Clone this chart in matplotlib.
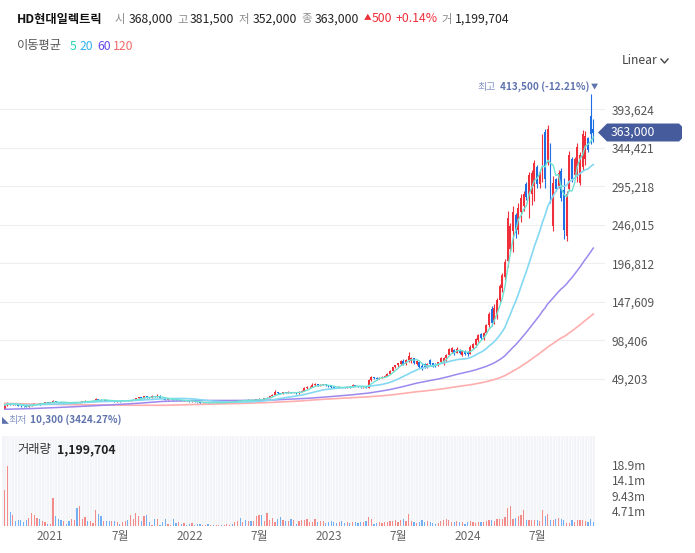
import numpy as np
import pandas as pd
import matplotlib
matplotlib.use("Agg")
import matplotlib.pyplot as plt
from matplotlib.patches import Polygon
from matplotlib.lines import Line2D

plt.rcParams['font.family'] = ['Noto Sans CJK KR', 'DejaVu Sans']

# ---------------- data (weekly, thousand KRW) ----------------
start_date = '2020-09-07'

open_k = [
    10.6, 16.0, 18.5, 16.6, 17.8, 16.2, 15.2, 14.6, 14.3, 14.0,
    15.4, 16.8, 17.9, 18.2, 17.1, 18.3, 19.4, 19.0, 19.3, 20.6,
    19.6, 19.2, 18.8, 19.6, 19.0, 18.6, 19.4, 19.9, 19.2, 20.0,
    20.5, 21.2, 20.4, 21.0, 21.5, 23.8, 22.6, 21.8, 22.4, 21.6,
    21.0, 21.4, 20.6, 21.2, 20.8, 21.5, 22.0, 21.4, 22.2, 22.8,
    24.5, 25.6, 24.8, 27.0, 25.8, 25.2, 27.5, 26.4, 28.0, 25.0,
    23.4, 22.6, 23.2, 24.0, 22.4, 21.8, 22.2, 21.3, 21.8, 21.0,
    20.6, 21.2, 20.0, 19.4, 18.2, 18.8, 19.2, 18.6, 19.0, 18.4,
    18.9, 19.3, 18.7, 19.0, 19.6, 20.2, 19.8, 21.5, 22.0, 21.4,
    22.3, 21.8, 22.5, 21.6, 22.0, 23.2, 24.0, 23.4, 24.6, 25.4,
    27.5, 29.0, 32.5, 31.0, 30.2, 32.0, 31.2, 32.4, 31.6, 32.2,
    31.0, 32.8, 34.2, 37.5, 38.6, 39.0, 41.5, 42.8, 40.5, 41.6,
    42.4, 41.2, 39.8, 38.6, 38.2, 37.8, 39.0, 38.4, 38.0, 39.2,
    38.6, 41.5, 40.2, 39.0, 38.4, 38.8, 38.2, 47.5, 51.5, 50.0,
    49.5, 51.0, 51.8, 53.5, 55.5, 59.5, 64.0, 66.5, 68.0, 71.8,
    68.5, 74.0, 72.0, 76.0, 68.0, 71.0, 66.0, 68.5, 64.0, 73.0,
    69.5, 68.0, 66.5, 70.5, 70.0, 76.0, 80.0, 84.0, 86.5, 82.5,
    86.5, 80.0, 85.0, 84.0, 81.5, 89.0, 93.0, 99.0, 106.0, 101.0,
    108.0, 118.0, 138.0, 122.0, 132.0, 150.0, 165.0, 180.0, 200.0, 215.0,
    238.0, 258.0, 240.0, 262.0, 270.0, 298.0, 280.0, 285.0, 295.0, 320.0,
    298.0, 310.0, 365.0, 325.0, 345.0, 245.0, 304.0, 295.0, 315.0, 290.0,
    232.0, 292.0, 330.0, 310.0, 310.0, 300.0, 320.0, 330.0, 357.0, 385.0,
    368.0]

high_k = [
    17.5, 20.2, 19.0, 18.8, 18.2, 16.6, 15.8, 15.2, 15.0, 16.0,
    17.4, 18.5, 18.8, 18.6, 18.8, 19.8, 20.0, 19.9, 21.8, 21.0,
    20.1, 19.6, 20.0, 19.9, 19.3, 19.8, 20.4, 20.2, 20.4, 21.0,
    21.8, 21.5, 21.4, 22.2, 25.0, 24.2, 23.0, 23.0, 22.8, 22.0,
    21.9, 21.6, 21.6, 21.5, 21.9, 22.5, 22.3, 22.6, 23.4, 25.2,
    26.4, 26.0, 28.0, 27.4, 26.2, 28.2, 27.8, 29.5, 28.2, 25.4,
    23.8, 23.8, 25.0, 24.2, 22.8, 22.8, 22.4, 22.2, 22.0, 21.3,
    21.6, 21.4, 20.3, 19.6, 19.2, 19.6, 19.4, 19.4, 19.2, 19.2,
    19.8, 19.5, 19.4, 20.0, 20.6, 20.5, 22.2, 22.6, 22.3, 22.8,
    22.6, 23.0, 22.8, 22.4, 23.6, 24.6, 24.2, 25.0, 26.0, 28.0,
    29.6, 34.5, 33.0, 31.6, 33.0, 32.6, 33.6, 32.8, 33.0, 32.5,
    33.4, 35.5, 38.5, 39.6, 40.0, 43.5, 44.5, 43.2, 42.4, 43.2,
    43.0, 42.0, 40.4, 39.6, 38.8, 39.6, 39.4, 38.9, 39.8, 39.6,
    42.6, 41.8, 40.6, 39.4, 39.4, 39.4, 49.0, 53.5, 52.0, 51.6,
    52.0, 52.6, 54.6, 56.4, 60.4, 64.8, 67.6, 69.8, 72.8, 74.5,
    75.0, 84.0, 77.6, 76.4, 73.2, 71.4, 69.6, 69.6, 69.6, 74.7,
    70.0, 69.6, 71.0, 77.6, 77.0, 80.5, 88.6, 89.5, 87.0, 90.6,
    87.0, 86.5, 86.0, 85.0, 92.0, 94.6, 101.0, 107.0, 108.0, 109.0,
    120.0, 134.6, 143.0, 145.0, 152.0, 170.6, 185.0, 202.0, 264.0, 248.6,
    270.0, 261.0, 274.0, 285.0, 289.0, 301.0, 314.0, 316.0, 329.0, 322.5,
    316.0, 362.6, 369.0, 373.0, 350.0, 308.0, 306.0, 316.0, 319.0, 306.0,
    289.0, 340.0, 333.0, 333.0, 350.0, 339.0, 367.0, 365.6, 358.0, 413.5,
    381.5]

low_k = [
    10.3, 15.2, 15.8, 16.0, 15.5, 14.6, 14.0, 13.6, 13.5, 13.8,
    15.0, 16.2, 17.2, 16.6, 16.9, 18.0, 18.4, 18.6, 19.0, 19.2,
    18.8, 18.2, 18.5, 18.6, 18.0, 18.4, 19.0, 18.9, 19.0, 19.7,
    20.2, 20.0, 20.1, 20.8, 21.2, 22.2, 21.4, 21.5, 21.2, 20.6,
    20.7, 20.2, 20.4, 20.4, 20.6, 21.2, 21.0, 21.2, 22.0, 22.6,
    24.0, 24.2, 24.6, 25.4, 24.6, 25.0, 26.0, 26.2, 24.6, 23.0,
    22.2, 22.4, 23.0, 22.0, 21.4, 21.6, 21.0, 21.1, 20.6, 20.2,
    20.4, 19.6, 19.0, 17.2, 18.0, 18.6, 18.2, 18.4, 18.0, 18.2,
    18.7, 18.4, 18.5, 18.8, 19.3, 19.5, 19.6, 21.2, 21.0, 21.2,
    21.4, 21.6, 21.2, 21.4, 21.8, 23.0, 23.0, 23.2, 24.4, 25.2,
    27.0, 28.8, 30.4, 29.6, 30.0, 30.8, 31.0, 31.0, 31.2, 30.4,
    30.6, 32.5, 34.0, 36.8, 37.6, 38.6, 40.8, 40.0, 40.0, 41.0,
    40.6, 39.2, 37.8, 37.6, 37.2, 37.6, 37.8, 37.4, 37.8, 38.0,
    38.4, 39.6, 38.6, 37.8, 38.0, 37.6, 38.0, 46.8, 48.6, 48.4,
    49.0, 50.4, 51.2, 53.0, 55.0, 58.8, 62.6, 65.0, 67.0, 67.2,
    67.4, 71.5, 69.2, 68.0, 67.0, 63.0, 61.0, 63.0, 63.2, 67.0,
    65.0, 65.0, 66.0, 69.6, 67.0, 71.0, 79.5, 82.0, 80.0, 82.0,
    80.5, 78.5, 80.0, 79.0, 81.0, 88.0, 90.0, 96.6, 99.0, 99.0,
    106.0, 115.6, 116.5, 120.0, 126.0, 147.0, 160.0, 175.0, 191.6, 210.0,
    211.0, 229.6, 234.0, 250.0, 264.0, 278.0, 255.0, 272.0, 276.0, 293.0,
    293.0, 301.0, 293.0, 322.5, 274.0, 238.0, 289.0, 293.0, 276.0, 227.6,
    225.0, 289.0, 301.0, 308.0, 301.0, 297.0, 316.0, 322.5, 339.0, 348.7,
    352.0]

close_k = [
    16.0, 18.5, 16.6, 17.8, 16.2, 15.2, 14.6, 14.3, 14.0, 15.4,
    16.8, 17.9, 18.2, 17.1, 18.3, 19.4, 19.0, 19.3, 20.6, 19.6,
    19.2, 18.8, 19.6, 19.0, 18.6, 19.4, 19.9, 19.2, 20.0, 20.5,
    21.2, 20.4, 21.0, 21.5, 23.8, 22.6, 21.8, 22.4, 21.6, 21.0,
    21.4, 20.6, 21.2, 20.8, 21.5, 22.0, 21.4, 22.2, 22.8, 24.5,
    25.6, 24.8, 27.0, 25.8, 25.2, 27.5, 26.4, 28.0, 25.0, 23.4,
    22.6, 23.2, 24.0, 22.4, 21.8, 22.2, 21.3, 21.8, 21.0, 20.6,
    21.2, 20.0, 19.4, 18.2, 18.8, 19.2, 18.6, 19.0, 18.4, 18.9,
    19.3, 18.7, 19.0, 19.6, 20.2, 19.8, 21.5, 22.0, 21.4, 22.3,
    21.8, 22.5, 21.6, 22.0, 23.2, 24.0, 23.4, 24.6, 25.4, 27.5,
    29.0, 32.5, 31.0, 30.2, 32.0, 31.2, 32.4, 31.6, 32.2, 31.0,
    32.8, 34.2, 37.5, 38.6, 39.0, 41.5, 42.8, 40.5, 41.6, 42.4,
    41.2, 39.8, 38.6, 38.2, 37.8, 39.0, 38.4, 38.0, 39.2, 38.6,
    41.5, 40.2, 39.0, 38.4, 38.8, 38.2, 47.5, 51.5, 50.0, 49.5,
    51.0, 51.8, 53.5, 55.5, 59.5, 64.0, 66.5, 69.0, 71.8, 68.5,
    74.0, 78.5, 76.0, 69.5, 72.0, 64.5, 62.5, 64.0, 68.5, 68.0,
    66.0, 66.5, 70.5, 76.5, 76.0, 79.5, 87.0, 88.5, 82.5, 88.0,
    82.0, 85.0, 81.5, 81.0, 90.0, 94.0, 100.0, 105.0, 101.0, 108.0,
    118.0, 132.0, 121.0, 140.0, 150.0, 168.0, 182.0, 198.0, 255.0, 245.0,
    262.0, 235.0, 268.0, 280.0, 285.0, 282.0, 310.0, 312.0, 325.0, 298.0,
    314.0, 358.0, 305.0, 368.0, 280.0, 300.0, 292.0, 312.0, 280.0, 240.0,
    285.0, 335.0, 305.0, 330.0, 345.0, 335.0, 362.0, 360.0, 342.0, 362.5,
    363.0]

volume_m = [
    11.3, 18.5, 4.4, 3.4, 1.5, 1.8, 2.0, 1.3, 2.0, 2.7,
    4.1, 3.6, 2.7, 2.2, 1.6, 1.4, 0.8, 0.8, 8.8, 3.3,
    2.4, 1.8, 1.6, 0.8, 1.5, 2.4, 1.8, 5.5, 6.4, 2.4,
    2.9, 1.6, 1.6, 1.0, 5.1, 3.9, 3.3, 1.7, 1.6, 1.5,
    1.6, 1.5, 1.2, 0.8, 1.2, 1.6, 1.8, 3.5, 2.4, 4.2,
    3.3, 1.5, 3.1, 3.5, 1.3, 0.5, 2.3, 2.4, 0.5, 1.4,
    2.1, 0.8, 0.5, 2.4, 1.0, 1.2, 0.6, 1.0, 0.5, 0.8,
    0.9, 0.5, 0.6, 0.8, 0.4, 0.5, 0.6, 0.3, 0.4, 0.5,
    0.3, 0.4, 0.5, 0.6, 0.4, 0.6, 1.3, 1.5, 2.7, 1.3,
    2.0, 1.5, 1.6, 1.5, 3.1, 3.6, 3.6, 1.6, 4.1, 1.8,
    2.7, 1.2, 2.4, 2.9, 1.8, 1.6, 1.6, 2.3, 1.8, 0.8,
    1.6, 2.0, 1.8, 2.1, 1.2, 1.4, 2.2, 1.3, 1.5, 1.6,
    1.1, 1.4, 1.6, 1.2, 1.0, 1.3, 1.5, 0.9, 1.2, 1.0,
    1.4, 1.2, 1.1, 1.3, 1.2, 1.6, 2.9, 2.4, 0.8, 1.1,
    1.2, 1.0, 1.3, 1.2, 1.5, 1.7, 1.9, 1.4, 1.8, 2.2,
    1.6, 3.9, 1.6, 1.4, 1.1, 1.3, 1.8, 1.3, 1.6, 1.2,
    0.9, 0.6, 1.1, 1.6, 2.0, 2.1, 1.9, 1.4, 1.4, 1.6,
    1.3, 1.2, 0.8, 1.4, 1.5, 1.3, 1.1, 1.3, 1.4, 1.4,
    1.5, 2.0, 1.8, 1.7, 2.4, 2.2, 2.4, 3.0, 5.8, 6.2,
    2.1, 2.7, 3.1, 3.4, 5.1, 2.0, 2.0, 1.8, 1.8, 1.8,
    1.6, 5.1, 3.1, 3.9, 1.8, 1.8, 2.2, 2.7, 2.4, 1.8,
    1.0, 1.0, 1.8, 1.3, 1.8, 1.8, 2.0, 1.6, 1.3, 2.1,
    1.2]

ma60_early_idx = [0, 10, 20, 30, 40, 50, 58]
ma60_early_k = [10.5, 11.4, 12.8, 14.4, 16.2, 18.2, 20.3]
ma120_early_idx = [0, 10, 20, 30, 40, 50, 60, 70, 80, 90, 100, 110, 118]
ma120_early_k = [18.0, 17.2, 16.7, 16.2, 15.9, 15.6, 15.6, 16.5, 17.3, 18.1, 19.3, 21.0, 23.0]

price_ticks = [49203, 98406, 147609, 196812, 246015, 295218, 344421, 393624]
vol_ticks = [4.714e6, 9.428e6, 14.142e6, 18.856e6]
vol_tick_labels = ['4.71m', '9.43m', '14.1m', '18.9m']
ma_periods = ['5', '20', '60', '120']

# ---------------- figure geometry (pixels) ----------------
W, H = 695, 553
fig = plt.figure(figsize=(W / 100, H / 100), dpi=100)


def fx(x):
    return x / W


def fy(y):
    return 1 - y / H


X0, DX = 4.8, 2.675          # pixel of first week, pixels per week
Y0, VPP = 417.5, 1277.0      # pixel of price 0, won per pixel

n = len(close_k)
idx = np.arange(n)
o = np.array(open_k) * 1000
h = np.array(high_k) * 1000
l = np.array(low_k) * 1000
c = np.array(close_k) * 1000
v = np.array(volume_m) * 1e6
dates = pd.date_range(start_date, periods=n, freq='7D')

RED, BLUE = '#ef2f3a', '#1d6fe3'
up = c >= o
col = np.where(up, RED, BLUE)

# ---------------- price panel ----------------
ax = fig.add_axes([0, fy(430), fx(605), (430 - 70) / H])
ax.set_xlim(-X0 / DX, (605 - X0) / DX)
ax.set_ylim((Y0 - 430) * VPP, (Y0 - 70) * VPP)
for s in ax.spines.values():
    s.set_visible(False)
ax.set_xticks([])
ax.set_yticks(price_ticks)
ax.set_yticklabels([f'{t:,}' for t in price_ticks])
ax.yaxis.tick_right()
ax.tick_params(axis='y', length=0, pad=5, labelsize=8.6, labelcolor='#555555')
ax.grid(axis='y', color='#eeeeee', lw=0.8)
ax.set_axisbelow(True)

ax.vlines(idx, l, h, colors=col, lw=0.8, zorder=2)
ax.bar(idx, np.abs(c - o), bottom=np.minimum(o, c), width=0.72, color=col,
       linewidth=0, zorder=2)

cs = pd.Series(c)
ma5 = cs.rolling(5, min_periods=1).mean()
ma20 = cs.rolling(20, min_periods=1).mean()
ma60 = cs.rolling(60).mean()
ma120 = cs.rolling(120).mean()
ma60_x = list(ma60_early_idx) + list(range(59, n))
ma60_y = list(np.array(ma60_early_k) * 1000) + list(ma60.values[59:])
ma120_x = list(ma120_early_idx) + list(range(119, n))
ma120_y = list(np.array(ma120_early_k) * 1000) + list(ma120.values[119:])

ax.plot(ma120_x, ma120_y, color='#ffaeae', lw=1.2, zorder=3)
ax.plot(ma60_x, ma60_y, color='#9c88ee', lw=1.1, zorder=3)
ax.plot(idx, ma20, color='#84d8f2', lw=1.2, zorder=3)
ax.plot(idx, ma5, color='#6fe3d2', lw=1.0, zorder=3)

# ---------------- volume panel ----------------
VTOP = (526.3 - 436) / 3.24 * 1e6
axv = fig.add_axes([fx(2), fy(526.3), fx(593), (526.3 - 436) / H])
axv.set_xlim((2 - X0) / DX, (595 - X0) / DX)
axv.set_ylim(0, VTOP)
axv.set_facecolor('#f3f4f8')
for s in axv.spines.values():
    s.set_visible(False)
axv.vlines(idx + 0.5, 0, VTOP, colors='white', lw=0.5, zorder=1)
vcol = np.where(up, '#f48b8b', '#71b0f2')
axv.bar(idx, v, width=0.45, color=vcol, linewidth=0, zorder=2)
axv.set_yticks(vol_ticks)
axv.set_yticklabels(vol_tick_labels)
axv.yaxis.tick_right()
axv.tick_params(axis='y', length=0, pad=12, labelsize=8.6, labelcolor='#555555')

tick_pos, tick_lab = [], []
for y in (2021, 2022, 2023, 2024):
    for m in (1, 7):
        k = int(np.argmax((dates.year == y) & (dates.month == m)))
        if (dates.year[k] == y) and (dates.month[k] == m):
            tick_pos.append(k)
            tick_lab.append(str(y) if m == 1 else '7월')
axv.set_xticks(tick_pos)
axv.set_xticklabels(tick_lab)
axv.tick_params(axis='x', length=0, pad=3, labelsize=8.6, labelcolor='#666666')

# ---------------- header texts ----------------
def t(x, y, s, **kw):
    kw.setdefault('fontsize', 8.8)
    kw.setdefault('va', 'center')
    fig.text(fx(x), fy(y), s, **kw)


t(17, 19, 'HD현대일렉트릭', color='#111111', fontweight='bold')
for lab, val, x1, x2 in [('시', '368,000', 115, 129), ('고', '381,500', 177, 190),
                         ('저', '352,000', 239, 253), ('종', '363,000', 301, 315)]:
    t(x1, 19, lab, color='#8c8c8c', fontsize=8.2)
    t(x2, 19, val, color='#222222')
t(364, 18, '▲', color='#ef2f3a', fontsize=5.5)
t(372, 19, '500', color='#ef2f3a')
t(395, 19, '+0.14%', color='#ef2f3a')
t(441, 19, '거', color='#8c8c8c', fontsize=8.2)
t(455, 19, '1,199,704', color='#222222')

t(17, 46, '이동평균', color='#555555')
for s, x, colr in zip(ma_periods, [70, 80, 97, 113],
                      ['#25d3b8', '#35b2ee', '#6548e6', '#f36a6a']):
    t(x, 46, s, color=colr)

t(622, 61, 'Linear', color='#444444')
fig.add_artist(Line2D([fx(661), fx(664.5), fx(668)], [fy(59), fy(63), fy(59)],
                      color='#444444', lw=1.0, transform=fig.transFigure))

# high / low annotations
t(496, 87, '최고', color='#8494c4', fontsize=7.2, ha='right')
t(589, 87, '413,500 (-12.21%)', color='#5f73ad', fontsize=7.2, fontweight='bold',
  ha='right')
t(590.5, 86.5, '▼', color='#5f73ad', fontsize=5.2)
t(1.5, 420, '◣', color='#5f73ad', fontsize=5)
t(8, 420, '최저', color='#8494c4', fontsize=7.2)
t(30, 420, '10,300 (3424.27%)', color='#5f73ad', fontsize=7.2, fontweight='bold')

# last price marker
pts = [(598, 132.5), (607, 123.5), (679, 123.5), (682, 126.5), (682, 138.5),
       (679, 141.5), (607, 141.5)]
fig.add_artist(Polygon([(fx(a), fy(b)) for a, b in pts], closed=True,
                       facecolor='#465b9c', edgecolor='none',
                       transform=fig.transFigure, zorder=10))
fig.text(fx(611), fy(132.5), '363,000', color='white', fontsize=8.8, va='center',
         zorder=11)

# volume label
t(17, 450, '거래량', color='#333333')
t(57, 450, '1,199,704', color='#222222', fontweight='bold')

fig.savefig('out.png', dpi=100)
